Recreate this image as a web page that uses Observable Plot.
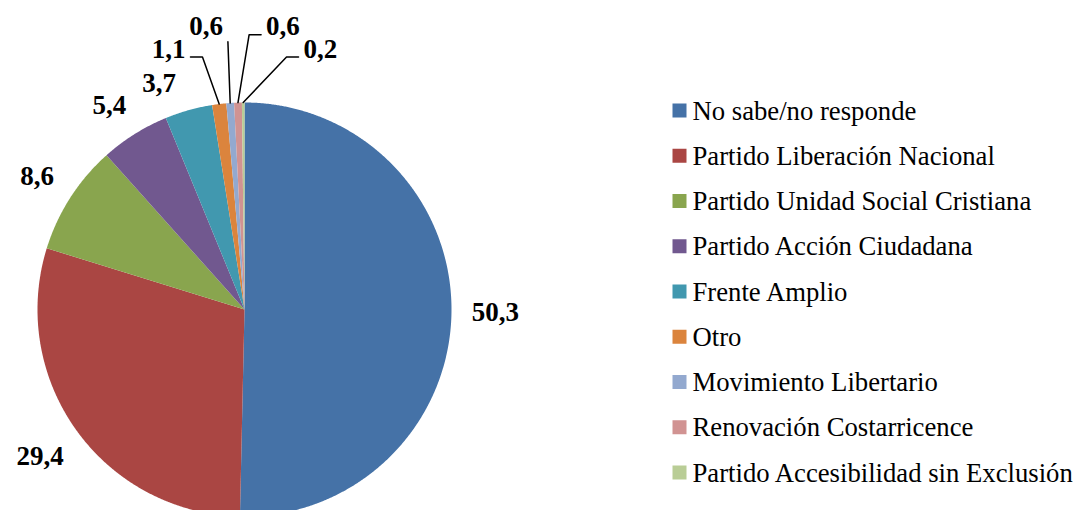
<!DOCTYPE html>
<html>
<head>
<meta charset="utf-8">
<script src="https://cdn.jsdelivr.net/npm/d3@7"></script>
<script src="https://cdn.jsdelivr.net/npm/@observablehq/plot@0.6"></script>
<style>
  html, body { margin: 0; padding: 0; background: #fff; }
  #chart svg { display: block; font-family: 'Liberation Serif', serif; }
  #chart svg text { font-family: 'Liberation Serif', serif; }
</style>
</head>
<body>
<div id="chart"></div>
<script>
// ---- data ----
const categories = [
  "No sabe/no responde",
  "Partido Liberación Nacional",
  "Partido Unidad Social Cristiana",
  "Partido Acción Ciudadana",
  "Frente Amplio",
  "Otro",
  "Movimiento Libertario",
  "Renovación Costarricence",
  "Partido Accesibilidad sin Exclusión"
];
const values = [50.3, 29.4, 8.6, 5.4, 3.7, 1.1, 0.6, 0.6, 0.2];
const valueLabels = ["50,3", "29,4", "8,6", "5,4", "3,7", "1,1", "0,6", "0,6", "0,2"];
const colors = ["#4572A7", "#AA4643", "#89A54E", "#71588F", "#4198AF", "#DB843D", "#93A9CF", "#D19392", "#B9CD96"];

// ---- layout ----
const W = 1075, H = 510;
const cx = 244, cy = 309, R = 207;
const legendX = 672.5, legendY0 = 110.5, legendStep = 45.25, sq = 14;
const font = "'Liberation Serif', serif";
const labelSize = 27, legendSize = 26.7;
const gap = 20;

const data = categories.map((c, i) => ({name: c, v: values[i], label: valueLabels[i]}));
const arcs = d3.pie().sort(null).value(d => d.v)(data);
const pt = (a, r) => [cx + r * Math.sin(a), cy - r * Math.cos(a)];
const deg = Math.PI / 180;

// slice polygons
const slicePts = [];
arcs.forEach(a => {
  slicePts.push({name: a.data.name, x: cx, y: cy});
  const n = Math.max(2, Math.ceil((a.endAngle - a.startAngle) / 0.005));
  for (let k = 0; k <= n; k++) {
    const ang = a.startAngle + (a.endAngle - a.startAngle) * k / n;
    const [x, y] = pt(ang, R);
    slicePts.push({name: a.data.name, x, y});
  }
  slicePts.push({name: a.data.name, x: cx, y: cy});
});

// approximate label box size (bold serif digits 0.5em, comma 0.25em)
const boxW = t => labelSize * [...t].reduce((s, ch) => s + (ch === "," ? 0.25 : 0.5), 0);
const boxH = labelSize * 0.7;

// small slice labels fanned above the pie, with leader lines
const small = arcs.filter(a => a.data.v < 2);
const big = arcs.filter(a => a.data.v >= 2);
const smallLabels = [], leaders = [];
small.forEach((a, k) => {
  const off = k - (small.length - 1) / 2;
  const ang = (off * 8.5 + Math.sign(off) * 3.5) * deg;
  const [x, y] = pt(ang, 287 - 7 * off * off);
  smallLabels.push({x, y, text: a.data.label});
  const side = Math.sign(off);
  const edge = x - side * (boxW(a.data.label) / 2 + 5);
  const m = (a.startAngle + a.endAngle) / 2;
  const [ax, ay] = pt(m, R);
  if (Math.abs(ax - edge) < 15) {
    leaders.push({id: k, x: edge, y: y + 15});
  } else {
    leaders.push({id: k, x: edge, y: y + 8});
    leaders.push({id: k, x: edge - side * 12, y: y + 8});
  }
  leaders.push({id: k, x: ax, y: ay});
});

// outside-end labels: box's nearest point sits `gap` px outside the rim
function outsidePos(m, text) {
  const hw = boxW(text) / 2, hh = boxH / 2;
  let x, y;
  for (let t = R; t < R + 120; t += 0.5) {
    [x, y] = pt(m, t);
    const dx = Math.max(Math.abs(x - cx) - hw, 0), dy = Math.max(Math.abs(y - cy) - hh, 0);
    if (Math.hypot(dx, dy) >= R + gap) break;
  }
  return {x, y, text};
}
const overlaps = (p, q) =>
  Math.abs(p.x - q.x) < (boxW(p.text) + boxW(q.text)) / 2 + 16 &&
  Math.abs(p.y - q.y) < boxH + 15;
// place from the last big slice backwards, nudging counter-clockwise on collision
const placed = smallLabels.slice();
const bigLabels = [];
for (let i = big.length - 1; i >= 0; i--) {
  const a = big[i];
  let m = (a.startAngle + a.endAngle) / 2;
  let lab;
  for (let it = 0; it < 80; it++) {
    lab = outsidePos(m, a.data.label);
    if (!placed.some(s => overlaps(lab, s))) break;
    m -= 0.5 * deg;
  }
  placed.push(lab);
  bigLabels.push(lab);
}

const legend = categories.map((c, i) => ({name: c, y: legendY0 + i * legendStep}));

const plot = Plot.plot({
  width: W, height: H,
  margin: 0,
  x: {domain: [0, W], range: [0, W], axis: null},
  y: {domain: [0, H], range: [0, H], axis: null},
  color: {domain: categories, range: colors},
  style: {fontFamily: font, background: "#fff"},
  marks: [
    Plot.line(slicePts, {x: "x", y: "y", z: "name", fill: "name", stroke: "none", curve: "linear"}),
    Plot.line(leaders, {x: "x", y: "y", z: "id", stroke: "#000", strokeWidth: 1.5}),
    Plot.text(bigLabels.concat(smallLabels), {x: "x", y: "y", text: "text", fontSize: labelSize, fontWeight: "bold", fill: "#000", fontFamily: font}),
    Plot.rect(legend, {x1: () => legendX, x2: () => legendX + sq, y1: d => d.y - sq / 2, y2: d => d.y + sq / 2, fill: "name"}),
    Plot.text(legend, {x: () => legendX + sq + 5.5, y: "y", text: "name", textAnchor: "start", fontSize: legendSize, fill: "#000", fontFamily: font})
  ]
});
document.getElementById("chart").appendChild(plot);
</script>
</body>
</html>
